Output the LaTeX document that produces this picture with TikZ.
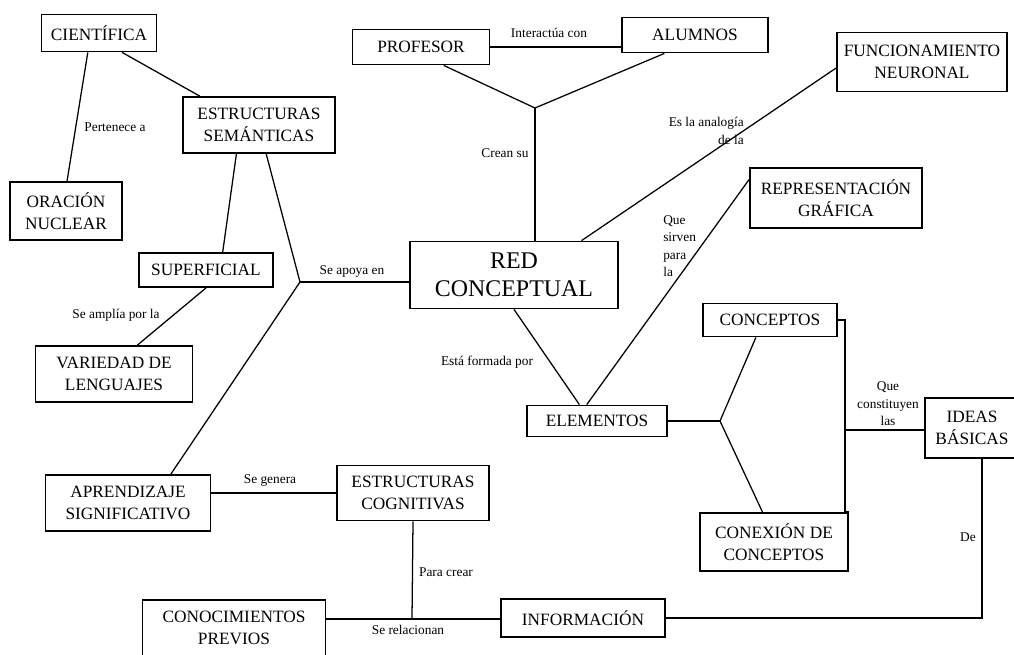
\documentclass[tikz,border=0pt]{standalone}
\usepackage{fontspec}
\setmainfont{Liberation Serif}

\begin{document}
\begin{tikzpicture}[x=0.025cm, y=-0.025cm,
	caja/.style={shape=rectangle, draw=black, line width=1.3pt, align=center, inner sep=2pt, font=\fontsize{12.3}{15.5}\selectfont},
	tam/.style 2 args={minimum width=#1*0.025cm, minimum height=#2*0.025cm},
	rotulo/.style={align=center, inner sep=0pt, font=\fontsize{9.5}{12.5}\selectfont},
	linea/.style={line width=0.9pt}]

	\useasboundingbox (0,0) rectangle (1014,654);

	\node[caja, tam={115}{37}] (cien) at (99, 33)     {CIENTÍFICA};
	\node[caja, tam={152}{56}] (esem) at (259, 125)   {ESTRUCTURAS\\SEMÁNTICAS};
	\node[caja, tam={112}{58}] (orac) at (66, 211)    {ORACIÓN\\NUCLEAR};
	\node[caja, tam={137}{35}] (prof) at (421, 47)    {PROFESOR};
	\node[caja, tam={146}{35}] (alum) at (695, 35)    {ALUMNOS};
	\node[caja, tam={170}{59}] (func) at (922, 62)    {FUNCIONAMIENTO\\NEURONAL};
	\node[caja, tam={172}{60}] (repr) at (836, 198)   {REPRESENTACIÓN\\GRÁFICA};
	\node[caja, tam={208}{67}, font=\fontsize{17}{20}\selectfont] (red) at (514, 275) {RED\\CONCEPTUAL};
	\node[caja, tam={134}{34}] (sup) at (206, 270)    {SUPERFICIAL};
	\node[caja, tam={157}{56}] (vari) at (114, 374)   {VARIEDAD DE\\LENGUAJES};
	\node[caja, tam={134}{33}] (conc) at (770, 320)   {CONCEPTOS};
	\node[caja, tam={140}{31}] (elem) at (597, 421)   {ELEMENTOS};
	\node[caja, tam={94}{60}] (ideas) at (972, 428)   {IDEAS\\BÁSICAS};
	\node[caja, tam={148}{58}] (conex) at (774, 542)  {CONEXIÓN DE\\CONCEPTOS};
	\node[caja, tam={165}{56}] (apre) at (128, 503)   {APRENDIZAJE\\SIGNIFICATIVO};
	\node[caja, tam={152}{55}] (ecog) at (413, 493)   {ESTRUCTURAS\\COGNITIVAS};
	\node[caja, tam={183}{56}] (cono) at (234, 628)   {CONOCIMIENTOS\\PREVIOS};
	\node[caja, tam={164}{38}] (info) at (583, 618)   {INFORMACIÓN};

	% puntos de union
	\coordinate (j1) at (300, 282);
	\coordinate (j2) at (535, 108);
	\coordinate (j3) at (720, 421);
	\coordinate (j4) at (845, 430);
	\coordinate (j5) at (412, 619);

	\path[linea] (cien.-120) edge (orac.88);
	\path[linea] (cien.-40) edge (esem.154);
	\path[linea] (esem.-128) edge (sup.47);
	\path[linea] (esem.-76) edge (j1);
	\path[linea] (j1) edge (j1 -| red.west);
	\path[linea] (j1) edge (apre.34);
	\path[linea] (sup.south) edge (vari.51);
	\path[linea] (prof.-39) edge (j2);
	\path[linea] (alum.-149) edge (j2);
	\path[linea] (j2) edge (j2 |- red.north);
	\path[linea] (prof.east) edge (prof.east -| alum.west);
	\path[linea] (red.27) edge (func.-176);
	\path[linea] (red.south) edge (elem.137);
	\path[linea] (elem.122) edge (repr.168);
	\path[linea] (elem.east) edge (j3);
	\path[linea] (j3) edge (conc.-129);
	\path[linea] (j3) edge (conex.111);
	\path[linea] (j4) edge (j4 -| ideas.west);
	\path[linea] (ecog.west) edge (ecog.west -| apre.east);
	\path[linea] (ecog.south) edge (j5);
	\path[linea] (cono.east |- j5) edge (j5);
	\path[linea] (j5) edge (j5 -| info.west);
	\draw[linea] (conc.east) -| (j4) |- (conex.north east);
	\draw[linea] (ideas.-72) |- (info.east);

	% rotulos
	\node[rotulo] (l1) at (115, 127)  {Pertenece a};
	\node[rotulo] (l2) at (549, 33)   {Interactúa con};
	\node[rotulo] (l3) at (505, 153)  {Crean su};
	\node[rotulo, align=right, anchor=east] (l4) at (744, 131) {Es la analogía\\de la};
	\node[rotulo, align=left, anchor=north west] (l5) at (663, 215) {Que\\sirven\\para\\la};
	\node[rotulo] (l6) at (352, 272)  {Se apoya en};
	\node[rotulo] (l7) at (116, 315)  {Se amplía por la};
	\node[rotulo] (l8) at (487, 362)  {Está formada por};
	\node[rotulo] (l9) at (888, 404)  {Que\\constituyen\\las};
	\node[rotulo] (l10) at (270, 481) {Se genera};
	\node[rotulo] (l11) at (446, 572) {Para crear};
	\node[rotulo] (l12) at (408, 630) {Se relacionan};
	\node[rotulo] (l13) at (968, 537) {De};

\end{tikzpicture}
\end{document}
